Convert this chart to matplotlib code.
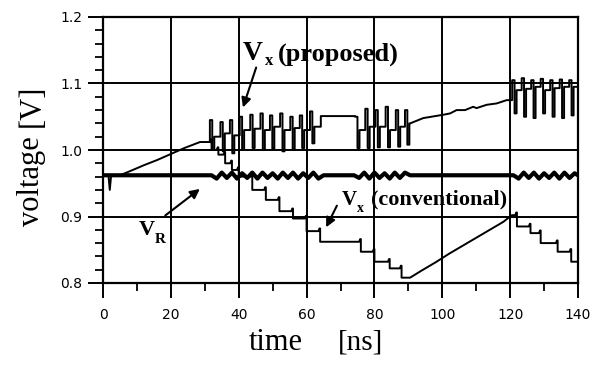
import matplotlib
matplotlib.use('Agg')
import matplotlib.pyplot as plt
from matplotlib.ticker import MultipleLocator

# shared charging ramp (both V_x curves) before the pulses start
ramp_t = [0, 1.6, 2.0, 2.4, 5, 7.4, 12, 16, 20, 24, 28.6, 31.5]
ramp_v = [0.962, 0.962, 0.940, 0.962, 0.962, 0.967, 0.977, 0.985, 0.994, 1.003, 1.012, 1.012]

# V_x proposed: pulse trains (start time, top, low, level after pulse)
propA_t = [31.5, 34.6, 37.4, 40.3, 43.4, 46.4, 49.2, 52.2, 55.2, 58.0, 61.0]
propA_top = [1.045, 1.042, 1.045, 1.050, 1.053, 1.055, 1.052, 1.055, 1.050, 1.052, 1.058]
propA_low = [1.000, 0.998, 0.995, 1.000, 1.003, 1.000, 1.002, 0.998, 1.000, 1.003, 1.010]
propA_mid = [1.020, 1.025, 1.022, 1.030, 1.032, 1.030, 1.035, 1.030, 1.033, 1.030, 1.035]
propA_end = [(64.2, 1.035), (64.2, 1.051), (74.3, 1.051)]

propB_t = [74.3, 77.3, 80.3, 83.3, 86.3, 89.0]
propB_top = [1.050, 1.062, 1.060, 1.065, 1.060, 1.060]
propB_low = [1.003, 1.003, 1.004, 1.004, 1.005, 1.008]
propB_mid = [1.030, 1.035, 1.035, 1.030, 1.035, 1.040]

propC_t = [90.5, 94.4, 100.3, 102.3, 104.2, 106.7, 109.1, 110.1, 113.1, 116.0, 119.0, 120.6]
propC_v = [1.040, 1.048, 1.053, 1.055, 1.060, 1.060, 1.065, 1.063, 1.068, 1.070, 1.075, 1.075]

propD_t = [120.6, 123.4, 126.2, 129.0, 131.8, 134.6, 137.4]
propD_top = [1.105, 1.108, 1.105, 1.107, 1.105, 1.106, 1.105]
propD_low = [1.055, 1.050, 1.048, 1.055, 1.050, 1.048, 1.052]
propD_mid = [1.090, 1.092, 1.095, 1.090, 1.093, 1.095, 1.095]

# V_x conventional: staircase discharge (step time, level after)
convA_t = [32, 34, 36, 38, 40, 44, 48, 52, 56, 60, 64, 76, 80, 84.5, 88]
convA_v = [1.000, 0.993, 0.980, 0.970, 0.960, 0.940, 0.925, 0.908, 0.897, 0.878, 0.862, 0.847, 0.832, 0.822, 0.808]
convB_t = [90.5, 94, 98, 102, 106, 110, 114, 118, 120.5]
convB_v = [0.808, 0.819, 0.831, 0.844, 0.856, 0.868, 0.880, 0.892, 0.902]
convC_t = [122, 126, 129, 134, 138]
convC_v = [0.885, 0.875, 0.860, 0.847, 0.832]

# V_R reference with ripple while the pulses run
vr_t = [0, 32, 33.5, 35, 36.5, 38, 39.5, 41, 42.5, 44, 45.5, 47, 48.5, 50, 51.5, 53, 54.5,
        56, 57.5, 59, 60.5, 62, 63.5, 65, 74, 75.5, 77, 78.5, 80, 81.5, 83, 84.5, 86, 87.5,
        89, 90.5, 121, 122.5, 124, 125.5, 127, 128.5, 130, 131.5, 133, 134.5, 136, 137.5, 139, 140]
vr_v = [0.962, 0.962, 0.957, 0.966, 0.958, 0.966, 0.957, 0.965, 0.958, 0.966, 0.957, 0.966,
        0.958, 0.965, 0.957, 0.966, 0.958, 0.966, 0.957, 0.965, 0.958, 0.966, 0.957, 0.962,
        0.962, 0.958, 0.966, 0.957, 0.966, 0.958, 0.965, 0.957, 0.966, 0.958, 0.966, 0.962,
        0.962, 0.957, 0.966, 0.958, 0.966, 0.957, 0.965, 0.958, 0.966, 0.957, 0.966, 0.958,
        0.965, 0.962]


def pulses(ts, tops, lows, mids, prev):
    xs, ys = [], []
    for t0, hi, lo, md in zip(ts, tops, lows, mids):
        xs += [t0, t0, t0 + 0.7, t0 + 0.7, t0 + 1.3, t0 + 1.3]
        ys += [prev, hi, hi, lo, lo, md]
        prev = md
    return xs, ys


def stairs(ts, vs, prev):
    xs, ys = [], []
    for t0, v in zip(ts, vs):
        xs += [t0 - 0.5, t0 - 0.2, t0, t0]
        ys += [prev, prev + 0.004, prev + 0.004, v]
        prev = v
    return xs, ys


fig = plt.figure(figsize=(6.02, 3.71), dpi=100)
ax = fig.add_axes([103 / 602, 1 - 283 / 371, 475 / 602, 266 / 371])

# proposed path
px, py = list(ramp_t), list(ramp_v)
a = pulses(propA_t, propA_top, propA_low, propA_mid, ramp_v[-1])
px += a[0]; py += a[1]
px += [p[0] for p in propA_end]; py += [p[1] for p in propA_end]
b = pulses(propB_t, propB_top, propB_low, propB_mid, propA_end[-1][1])
px += b[0]; py += b[1]
px += propC_t; py += propC_v
d = pulses(propD_t, propD_top, propD_low, propD_mid, propC_v[-1])
px += d[0] + [140]; py += d[1] + [propD_mid[-1]]
ax.plot(px, py, color='black', lw=1.4)

# conventional path
cx, cy = [ramp_t[-1]], [ramp_v[-1]]
s = stairs(convA_t, convA_v, ramp_v[-1])
cx += s[0]; cy += s[1]
cx += convB_t; cy += convB_v
s = stairs(convC_t, convC_v, convB_v[-1])
cx += s[0] + [140]; cy += s[1] + [convC_v[-1]]
ax.plot(cx, cy, color='black', lw=1.4)

ax.plot(vr_t, vr_v, color='black', lw=3.0)

ax.set_xlim(0, 140)
ax.set_ylim(0.8, 1.2)
ax.xaxis.set_major_locator(MultipleLocator(20))
ax.xaxis.set_minor_locator(MultipleLocator(10))
ax.yaxis.set_minor_locator(MultipleLocator(0.02))
ax.set_yticks([0.8, 0.9, 1.0, 1.1, 1.2])
ax.set_yticklabels(['0.8', '0.9', '1.0', '1.1', '1.2'])
ax.grid(True, which='major', color='black', lw=1.4)
ax.tick_params(which='major', direction='out', length=11, width=1.4, pad=4, labelsize=10)
ax.tick_params(axis='x', which='major', pad=7)
ax.tick_params(which='minor', direction='out', length=6, width=1.3)
for sp in ax.spines.values():
    sp.set_linewidth(1.6)

serif = 'Liberation Serif'
# annotations
ax.text(41.3, 1.135, 'V', fontsize=20, family=serif, weight='bold', va='baseline')
ax.text(47.8, 1.128, 'x', fontsize=12, family=serif, weight='bold', va='baseline')
ax.text(51.6, 1.135, '(proposed)', fontsize=19, family=serif, weight='bold', va='baseline')
ax.annotate('', xy=(41.0, 1.060), xytext=(45.4, 1.128),
            arrowprops=dict(arrowstyle='-|>', color='black', lw=1.5, mutation_scale=14))

ax.text(10.6, 0.872, 'V', fontsize=16, family=serif, weight='bold', va='baseline')
ax.text(15.2, 0.860, 'R', fontsize=11, family=serif, weight='bold', va='baseline')
ax.annotate('', xy=(29.2, 0.944), xytext=(17.7, 0.899),
            arrowprops=dict(arrowstyle='-|>', color='black', lw=1.5, mutation_scale=14))

ax.text(70.5, 0.918, 'V', fontsize=15, family=serif, weight='bold', va='baseline')
ax.text(74.8, 0.907, 'x', fontsize=10, family=serif, weight='bold', va='baseline')
ax.text(79.0, 0.918, '(conventional)', fontsize=16, family=serif, weight='bold', va='baseline')
ax.annotate('', xy=(65.4, 0.880), xytext=(69.3, 0.920),
            arrowprops=dict(arrowstyle='-|>', color='black', lw=1.5, mutation_scale=14))

# axis titles
fig.text(276 / 602, 1 - 343 / 371, 'time', fontsize=22, family=serif, ha='center', va='center')
fig.text(361 / 602, 1 - 343 / 371, '[ns]', fontsize=21, family=serif, ha='center', va='center')
fig.text(32 / 602, 1 - 181 / 371, 'voltage', fontsize=22, family=serif, rotation=90,
         ha='center', va='center')
fig.text(32 / 602, 1 - 106 / 371, '[V]', fontsize=22, family=serif, rotation=90,
         ha='center', va='center')

fig.savefig('out.png', dpi=100, facecolor='white')
